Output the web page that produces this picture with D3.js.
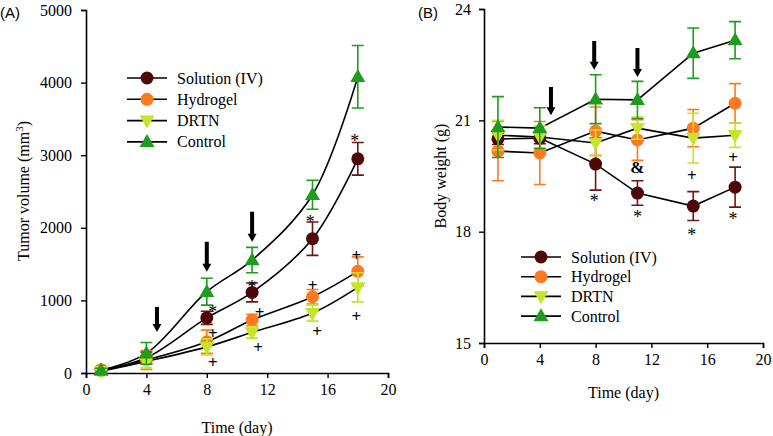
<!DOCTYPE html>
<html><head><meta charset="utf-8">
<script src="https://cdn.jsdelivr.net/npm/d3@7"></script>
<style>body{margin:0;background:#fff}svg{display:block}</style>
</head><body>
<svg id="c" width="773" height="436"></svg>
<script>
// ---------- data ----------
const days = [1, 4, 8, 11, 15, 18];
const seriesNames = ["Solution (IV)", "Hydrogel", "DRTN", "Control"];
const seriesColors = ["#4e0808", "#ff7a1f", "#c6e42a", "#1e9c1e"];
const seriesErrColors = ["#6e1515", "#ff7a1f", "#c6e42a", "#1e9c1e"];
const seriesShapes = ["circle", "circle", "down", "up"];

// Panel A: tumor volume (mm3)
const volSolution = [40, 210, 760, 1110, 1850, 2950];
const volHydrogel = [40, 180, 430, 730, 1050, 1400];
const volDRTN = [25, 160, 360, 560, 825, 1180];
const volControl = [35, 270, 1120, 1555, 2455, 4080];
const volSolutionErr = [30, 80, 90, 130, 230, 225];
const volHydrogelErr = [30, 130, 160, 80, 100, 200];
const volDRTNErr = [25, 90, 110, 80, 110, 200];
const volControlErr = [30, 150, 185, 175, 200, 430];

// Panel B: body weight (g)
const bwSolution = [20.5, 20.52, 19.82, 19.04, 18.69, 19.2];
const bwHydrogel = [20.17, 20.12, 20.71, 20.47, 20.79, 21.46];
const bwDRTN = [20.6, 20.55, 20.39, 20.79, 20.52, 20.6];
const bwControl = [20.82, 20.79, 21.57, 21.55, 22.81, 23.16];
const bwSolutionErr = [0.15, 0.15, 0.7, 0.33, 0.39, 0.54];
const bwHydrogelErr = [0.8, 0.85, 0.65, 0.55, 0.5, 0.53];
const bwDRTNErr = [0.4, 0.3, 0.35, 0.3, 0.67, 0.33];
const bwControlErr = [0.82, 0.55, 0.66, 0.5, 0.68, 0.5];

const xTicks = [0, 4, 8, 12, 16, 20];
const yTicksA = [0, 1000, 2000, 3000, 4000, 5000];
const yTicksB = [15, 18, 21, 24];

// annotations (in data units)
const arrowsA = [[4.7, 910, 565], [8, 1807, 1393], [11, 2220, 1807]];
const arrowsB = [[4.8, 21.9, 21.14], [7.9, 23.14, 22.36], [11, 22.95, 22.17]];
const marksA = [["*", 8.4, 897], ["*", 11, 1241], ["*", 14.85, 2138], ["*", 17.8, 3255],
  ["+", 8.4, 552], ["+", 8.4, 152], ["+", 11.5, 841], ["+", 11.4, 359],
  ["+", 15.0, 1214], ["+", 15.3, 579], ["+", 17.9, 1628], ["+", 17.9, 786]];
const marksB = [["*", 7.9, 18.93], ["*", 11, 18.5], ["*", 14.9, 18.02], ["*", 17.85, 18.45],
  ["&", 11, 19.74], ["+", 14.9, 19.53], ["+", 17.85, 20.01]];

// ---------- drawing ----------
const svg = d3.select("#c");
const SERIF = "Liberation Serif, Times New Roman, serif";

function marker(g, shape, color, x, y) {
  if (shape === "circle") {
    g.append("circle").attr("cx", x).attr("cy", y).attr("r", 6.5).attr("fill", color);
  } else {
    const w = 7.5, h = 13;
    const p = shape === "up"
      ? [[x, y - h * 0.6], [x + w, y + h * 0.4], [x - w, y + h * 0.4]]
      : [[x, y + h * 0.6], [x + w, y - h * 0.4], [x - w, y - h * 0.4]];
    g.append("path").attr("d", "M" + p.join("L") + "Z").attr("fill", color);
  }
}

function panel(cfg) {
  const g = svg.append("g");
  const x = cfg.x, y = cfg.y;
  // axes
  const ax = g.append("g").attr("transform", `translate(0,${y.range()[0]})`)
    .call(d3.axisBottom(x).tickValues(xTicks).tickSize(5).tickPadding(6).tickFormat(d3.format("d")));
  const ay = g.append("g").attr("transform", `translate(${x.range()[0]},0)`)
    .call(d3.axisLeft(y).tickValues(cfg.yTicks).tickSize(5).tickPadding(cfg.yPad).tickFormat(d3.format("d")));
  [ax, ay].forEach(a => {
    a.select(".domain").attr("stroke", "#000").attr("stroke-width", 1.6);
    a.selectAll(".tick line").attr("stroke", "#000").attr("stroke-width", 1.4);
    a.selectAll("text").attr("font-family", SERIF).attr("font-size", 16).attr("fill", "#000");
  });

  const line = d3.line().x((d, i) => x(days[i])).y(d => y(d)).curve(cfg.curve);
  // lines
  cfg.vals.forEach(v => {
    g.append("path").attr("d", line(v)).attr("fill", "none").attr("stroke", "#000").attr("stroke-width", 1.6);
  });
  // error bars + markers, drawn in series order
  cfg.vals.forEach((v, s) => {
    const eg = g.append("g");
    v.forEach((val, i) => {
      const e = cfg.errs[s][i];
      const cx = x(days[i]), y1 = y(val + e), y2 = y(val - e);
      eg.append("path").attr("d", `M${cx},${y1}V${y2}M${cx - 6},${y1}H${cx + 6}M${cx - 6},${y2}H${cx + 6}`)
        .attr("stroke", seriesErrColors[s]).attr("stroke-width", 1.6).attr("fill", "none");
    });
    v.forEach((val, i) => marker(eg, seriesShapes[s], seriesColors[s], x(days[i]), y(val)));
  });
  // arrows
  cfg.arrows.forEach(([d, v0, v1]) => {
    const cx = x(d), a = y(v0), b = y(v1);
    g.append("path")
      .attr("d", `M${cx - 2},${a}H${cx + 2}V${b - 8}H${cx + 4.5}L${cx},${b}L${cx - 4.5},${b - 8}H${cx - 2}Z`)
      .attr("fill", "#000");
  });
  // significance marks
  cfg.marks.forEach(([t, d, v]) => {
    g.append("text").attr("x", x(d)).attr("y", y(v) + (t === "*" ? 10 : 6))
      .attr("text-anchor", "middle").attr("font-family", SERIF)
      .attr("font-size", t === "*" ? 18 : 17).attr("font-weight", t === "*" ? "normal" : "bold")
      .text(t);
  });
  // legend
  const lg = g.append("g");
  seriesNames.forEach((n, s) => {
    const ly = cfg.legY + s * cfg.legDy;
    lg.append("line").attr("x1", cfg.legX).attr("x2", cfg.legX + 40).attr("y1", ly).attr("y2", ly)
      .attr("stroke", "#000").attr("stroke-width", 1.6);
    marker(lg, seriesShapes[s], seriesColors[s], cfg.legX + 20, ly);
    lg.append("text").attr("x", cfg.legX + 50).attr("y", ly + 5.5).attr("font-family", SERIF)
      .attr("font-size", 16).text(n);
  });
  // axis titles
  g.append("text").attr("x", (x.range()[0] + x.range()[1]) / 2).attr("y", cfg.xTitleY)
    .attr("text-anchor", "middle").attr("font-family", SERIF).attr("font-size", 16).text("Time (day)");
  const yt = g.append("text").attr("transform", `translate(${cfg.yTitleX},${cfg.yTitleY}) rotate(-90)`)
    .attr("text-anchor", "middle").attr("font-family", SERIF).attr("font-size", 16);
  cfg.yTitle(yt);
  g.append("text").attr("x", cfg.tagX).attr("y", 18).attr("font-family", "Liberation Sans, Arial, sans-serif")
    .attr("font-size", 15).text(cfg.tag);
}

panel({
  x: d3.scaleLinear().domain([0, 20]).range([86, 388]),
  y: d3.scaleLinear().domain([0, 5000]).range([373, 10]),
  yTicks: yTicksA, yPad: 9,
  curve: d3.curveCatmullRom.alpha(0.5),
  vals: [volSolution, volHydrogel, volDRTN, volControl],
  errs: [volSolutionErr, volHydrogelErr, volDRTNErr, volControlErr],
  arrows: arrowsA, marks: marksA,
  legX: 127, legY: 78, legDy: 21.3,
  xTitleY: 433, yTitleX: 29, yTitleY: 191,
  yTitle: t => { t.append("tspan").text("Tumor  volume (mm"); t.append("tspan").attr("font-size", 11).attr("dy", -6).text("3"); t.append("tspan").attr("dy", 6).text(")"); },
  tagX: 0, tag: "(A)"
});
panel({
  x: d3.scaleLinear().domain([0, 20]).range([484, 763]),
  y: d3.scaleLinear().domain([15, 24]).range([343, 9]),
  yTicks: yTicksB, yPad: 8,
  curve: d3.curveLinear,
  vals: [bwSolution, bwHydrogel, bwDRTN, bwControl],
  errs: [bwSolutionErr, bwHydrogelErr, bwDRTNErr, bwControlErr],
  arrows: arrowsB, marks: marksB,
  legX: 521, legY: 257, legDy: 19.7,
  xTitleY: 398, yTitleX: 446, yTitleY: 176,
  yTitle: t => t.text("Body weight (g)"),
  tagX: 418, tag: "(B)"
});
</script>
</body></html>
